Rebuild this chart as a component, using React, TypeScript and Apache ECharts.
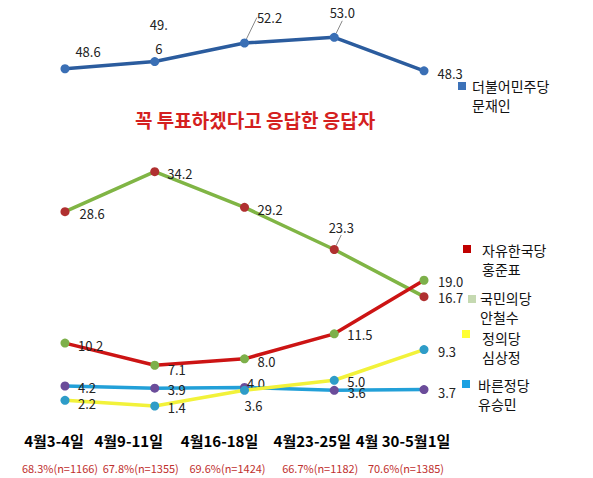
import React, { useEffect, useRef } from "react";
import * as echarts from "echarts";

const categories = ["4월3-4일", "4월9-11일", "4월16-18일", "4월23-25일", "4월 30-5월1일"];
const samples = ["68.3%(n=1166)", "67.8%(n=1355)", "69.6%(n=1424)", "66.7%(n=1182)", "70.6%(n=1385)"];
const moonValues = [48.6, 49.6, 52.2, 53.0, 48.3];
const ahnValues = [28.6, 34.2, 29.2, 23.3, 16.7];
const hongValues = [10.2, 7.1, 8.0, 11.5, 19.0];
const yooValues = [4.2, 3.9, 4.0, 3.6, 3.7];
const simValues = [2.2, 1.4, 3.6, 5.0, 9.3];
const titleText = "꼭 투표하겠다고 응답한 응답자";
const legendNames = [
  ["더불어민주당", "문재인"],
  ["자유한국당", "홍준표"],
  ["국민의당", "안철수"],
  ["정의당", "심상정"],
  ["바른정당", "유승민"],
];

const FONT = "'Noto Sans CJK KR', 'Noto Sans', sans-serif";

type Off = [number, number];

function makeSeries(
  name: string,
  values: number[],
  lineColor: string,
  markerColor: string,
  positions: string[],
  offsets: Off[],
  leaders: boolean[],
  z: number,
  formatter?: (p: any) => string,
  lineHeights?: number[]
) {
  return {
    name,
    type: "line",
    data: values.map((v, i) => ({
      value: v,
      label: {
        position: positions[i],
        lineHeight: lineHeights ? lineHeights[i] : 16,
      },
      labelLine: { show: leaders[i] },
    })),
    symbol: "circle",
    symbolSize: 9,
    z,
    lineStyle: { color: lineColor, width: 3.5 },
    itemStyle: { color: markerColor },
    label: {
      show: true,
      fontFamily: FONT,
      fontSize: 13,
      color: "#222",
      distance: 5,
      formatter: formatter || ((p: any) => Number(p.value).toFixed(1)),
    },
    labelLine: { show: false, lineStyle: { color: "#888", width: 1 } },
    labelLayout: (p: any) => ({ dx: offsets[p.dataIndex][0], dy: offsets[p.dataIndex][1] }),
  };
}

export default function App() {
  const ref = useRef<HTMLDivElement>(null);
  useEffect(() => {
    if (!ref.current) return;
    const chart = echarts.init(ref.current, null, { renderer: "svg" });

    const shiftsA = [-11, -26, -25, -22, -21];
    const shiftsB = [-5, -14, -17, -14, -18];
    const rich: any = {
      g: { fontSize: 1, lineHeight: 12 },
    };
    shiftsA.forEach((s, i) => {
      rich["a" + i] = {
        fontFamily: FONT,
        fontSize: 15,
        fontWeight: "bold",
        color: "#000",
        lineHeight: 18,
        padding: [0, -2 * s, 0, 0],
      };
    });
    shiftsB.forEach((s, i) => {
      rich["b" + i] = {
        fontFamily: FONT,
        fontSize: 11,
        color: "#c0302e",
        lineHeight: 14,
        padding: [0, -2 * s, 0, 0],
      };
    });

    const legendX = [
      { rx: 458, ry: 82, tx: 472, ty: 77, color: "#3d72b8" },
      { rx: 463, ry: 245, tx: 482, ty: 241, color: "#c00000" },
      { rx: 468, ry: 295, tx: 480, ty: 289, color: "#c5d9b1" },
      { rx: 462, ry: 330, tx: 482, ty: 329, color: "#ffff33" },
      { rx: 462, ry: 380, tx: 478, ty: 376, color: "#1ba1e2" },
    ];
    const graphics: any[] = [];
    legendNames.forEach((n, i) => {
      const L = legendX[i];
      graphics.push({
        type: "rect",
        shape: { x: L.rx, y: L.ry, width: 8, height: 8 },
        style: { fill: L.color },
      });
      graphics.push({
        type: "text",
        x: L.tx,
        y: L.ty,
        style: {
          text: n.join("\n"),
          fontFamily: FONT,
          fontSize: 14,
          lineHeight: 18.5,
          fill: "#111",
        },
      });
    });

    const option: any = {
      animation: false,
      backgroundColor: "#fff",
      title: {
        text: titleText,
        left: 130,
        top: 105,
        textStyle: { fontFamily: FONT, fontSize: 19, fontWeight: "bold", color: "#d42020" },
      },
      grid: { left: 65, right: 169, top: 23, bottom: 62 },
      xAxis: {
        type: "category",
        data: categories,
        boundaryGap: false,
        axisLine: { show: false },
        axisTick: { show: false },
        splitLine: { show: false },
        axisLabel: {
          interval: 0,
          margin: 15,
          formatter: (v: string, i: number) => `{a${i}|${v}}\n{g| }\n{b${i}|${samples[i]}}`,
          rich,
        },
      },
      yAxis: { type: "value", min: 0, max: 55, show: false },
      graphic: graphics,
      series: [
        makeSeries(
          "더불어민주당",
          moonValues,
          "#2b5c9e",
          "#3a6fb5",
          ["top", "top", "top", "top", "right"],
          [[23, 0], [4, 8], [25, -8], [8, -7], [4, 3]],
          [false, false, true, true, false],
          3,
          (p: any) => (p.dataIndex === 1 ? "49.\n6" : Number(p.value).toFixed(1)),
          [16, 24, 16, 16, 16]
        ),
        makeSeries(
          "국민의당",
          ahnValues,
          "#80b545",
          "#b03030",
          ["right", "right", "right", "top", "right"],
          [[5, 2], [3, 2], [3.5, 2], [7, -5], [4.5, 1]],
          [false, false, false, true, false],
          3
        ),
        makeSeries(
          "자유한국당",
          hongValues,
          "#cc1414",
          "#7db04a",
          ["right", "right", "right", "right", "right"],
          [[3.5, 2], [3.5, 4], [3.5, 3], [3.5, 1], [4.5, 1]],
          [false, false, false, false, false],
          4
        ),
        makeSeries(
          "바른정당",
          yooValues,
          "#22a0d8",
          "#6b4c9a",
          ["right", "right", "right", "right", "right"],
          [[3.5, 2], [3.5, 1], [-7, -4], [4, 2], [4.5, 3]],
          [false, false, false, false, false],
          5
        ),
        makeSeries(
          "정의당",
          simValues,
          "#f2f23a",
          "#2e9cc8",
          ["right", "right", "bottom", "right", "right"],
          [[3.5, 3], [3.5, 2], [9, -2], [3.5, 1], [4.5, 2]],
          [false, false, false, false, false],
          6
        ),
      ],
    };
    chart.setOption(option);
    return () => chart.dispose();
  }, []);
  return (
    <div
      ref={ref}
      style={{ position: "absolute", left: 0, top: 0, width: 593, height: 478, background: "#fff" }}
    />
  );
}
